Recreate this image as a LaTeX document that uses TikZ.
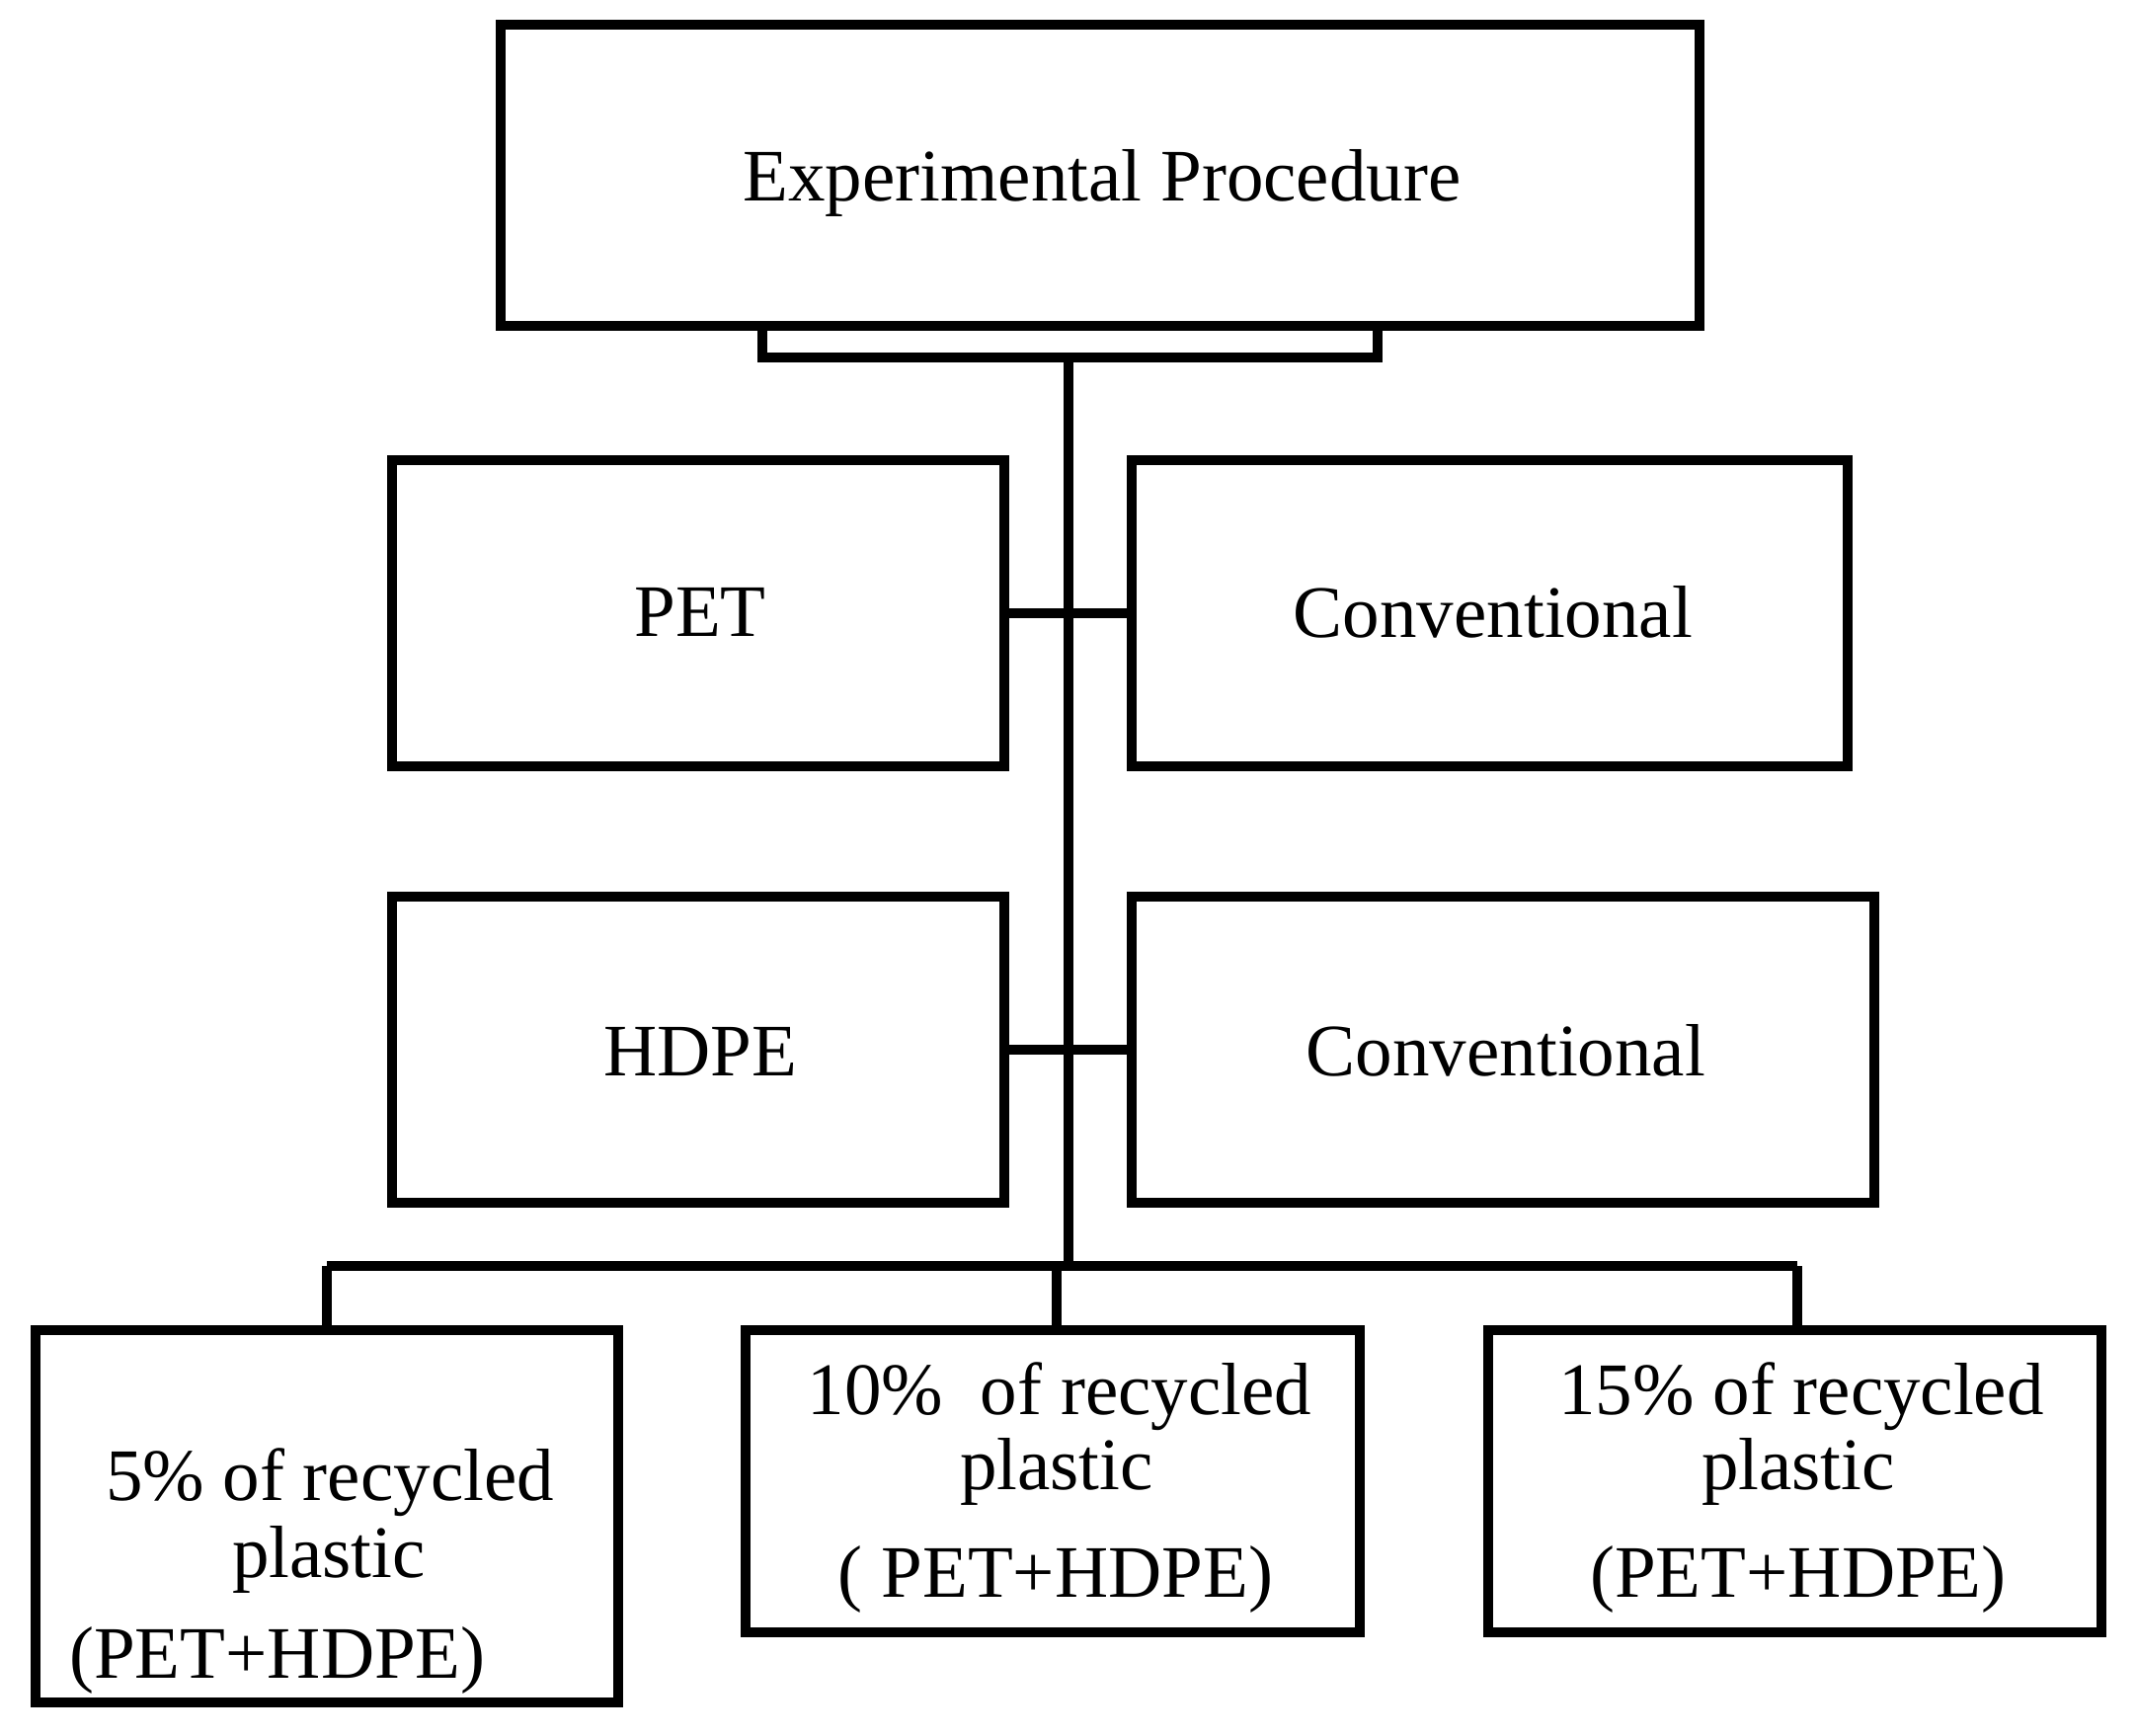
\documentclass[tikz,border=0pt]{standalone}
\usepackage{fontspec}
\setmainfont{Liberation Serif}
\begin{document}
\begin{tikzpicture}[x=0.5pt,y=-0.5pt,
  box/.style={draw=black, line width=4.6pt, rectangle, inner sep=0pt, outer sep=0pt},
  wire/.style={draw=black, line width=4.6pt},
  lbl/.style={anchor=base, inner sep=0pt, font=\fontsize{37.5}{40}\selectfont}]
\useasboundingbox (0,0) rectangle (2164,1757);
% boxes
\node[box, minimum width=1214*0.5pt, minimum height=305*0.5pt] (top) at (1114,177.5) {};
\node[box, minimum width=620*0.5pt, minimum height=310*0.5pt] (pet) at (707,621) {};
\node[box, minimum width=725*0.5pt, minimum height=310*0.5pt] (conv1) at (1508.5,621) {};
\node[box, minimum width=620*0.5pt, minimum height=310*0.5pt] (hdpe) at (707,1063) {};
\node[box, minimum width=752*0.5pt, minimum height=310*0.5pt] (conv2) at (1522,1063) {};
\node[box, minimum width=590*0.5pt, minimum height=377*0.5pt] (b5) at (331,1535.5) {};
\node[box, minimum width=622*0.5pt, minimum height=306*0.5pt] (b10) at (1066,1500) {};
\node[box, minimum width=621*0.5pt, minimum height=306*0.5pt] (b15) at (1817.5,1500) {};
% texts
\node[lbl] (tTop) at (1116,203) {Experimental Procedure};
\node[lbl] (tPet) at (709,644) {PET};
\node[lbl] (tConv1) at (1512,645) {Conventional};
\node[lbl] (tHdpe) at (709,1089) {HDPE};
\node[lbl] (tConv2) at (1525,1089) {Conventional};
\node[lbl] (t5a) at (334,1519) {5\% of recycled};
\node[lbl] (t5b) at (333,1597) {plastic};
\node[lbl] (t5c) at (281,1699) {(PET+HDPE)};
\node[lbl] (t10a) at (1073,1432) {10\%\ \ of recycled};
\node[lbl] (t10b) at (1070,1508) {plastic};
\node[lbl] (t10c) at (1069,1617) {( PET+HDPE)};
\node[lbl] (t15a) at (1824,1432) {15\% of recycled};
\node[lbl] (t15b) at (1821,1508) {plastic};
\node[lbl] (t15c) at (1821,1617) {(PET+HDPE)};
% connector coordinates
\coordinate (brL) at (772,362);
\coordinate (brR) at (1395,362);
\coordinate (trunk) at (1082,362);
\coordinate (busC) at (1082,1282);
\coordinate (busL) at (331,1282);
\coordinate (busM) at (1070,1282);
\coordinate (busR) at (1820,1282);
% bracket under top box
\draw[wire] (top.south -| brL) -- (brL) -- (brR) -- (top.south -| brR);
% trunk
\draw[wire] (trunk) -- (busC);
% side links
\draw[wire] (pet.east) -- (conv1.west);
\draw[wire] (hdpe.east) -- (conv2.west);
% bus and drops
\draw[wire] (busL) -- (busR);
\draw[wire] (busL) -- (b5.north -| busL);
\draw[wire] (busM) -- (b10.north -| busM);
\draw[wire] (busR) -- (b15.north -| busR);
\end{tikzpicture}
\end{document}
